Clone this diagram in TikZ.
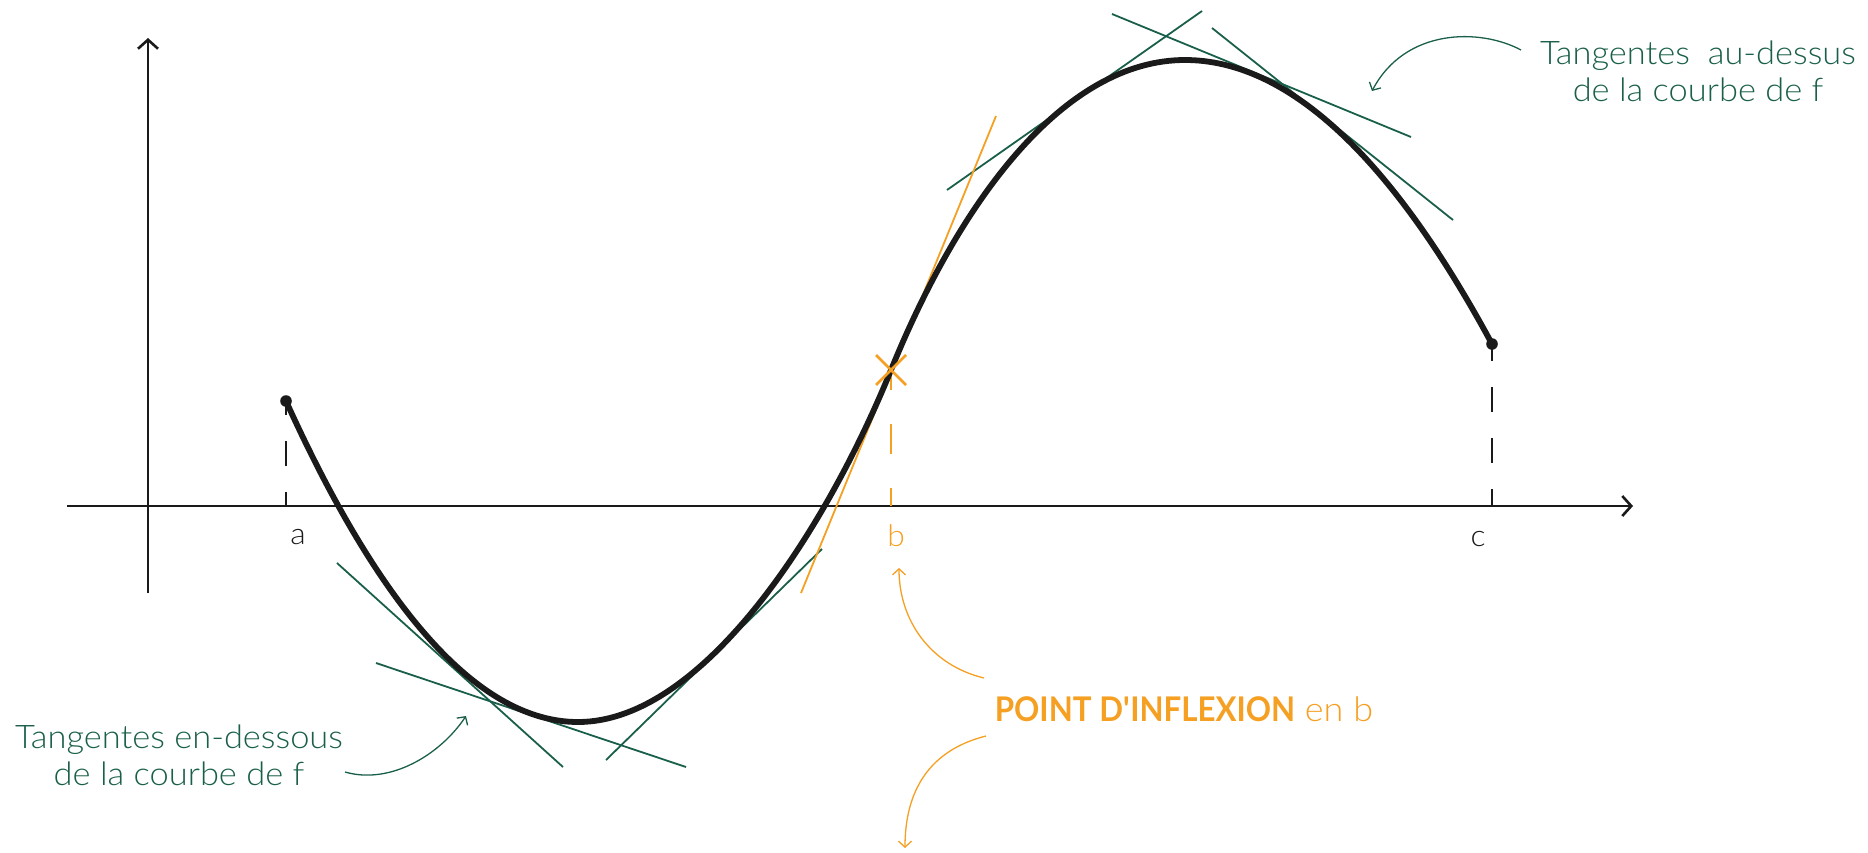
\documentclass[tikz,border=0pt]{standalone}
\usepackage{fontspec}
\setmainfont{Lato Light}[FakeStretch=1.06]
\newfontfamily\pibold{Lato Bold}[FakeStretch=0.92]
\usetikzlibrary{arrows.meta}
\definecolor{vert}{HTML}{1A5F4B}
\definecolor{orng}{HTML}{F5A023}
\definecolor{ink}{HTML}{1A1A1A}
\begin{document}
\begin{tikzpicture}[x=1pt,y=-1pt,
  axisline/.style={ink, line width=2.6pt, -{Straight Barb[length=9pt,width=20pt]}},
  curveline/.style={ink, line width=5.8pt, line cap=round},
  dashline/.style={line width=2.6pt, dash pattern=on 25pt off 26pt},
  tanline/.style={vert, line width=1.8pt},
  tanorange/.style={orng, line width=1.8pt},
  thinarrow/.style={line width=1.3pt, -{Straight Barb[length=6pt,width=13pt]}},
  annot/.style={font=\fontsize{32.5}{37}\selectfont, align=center, inner sep=0pt},
  tick/.style={font=\fontsize{30}{36}\selectfont, inner sep=0pt}]
\useasboundingbox (0,0) rectangle (1868,852);
% axes
\coordinate (xs) at (67,506);
\coordinate (xe) at (1633,506);
\coordinate (ys) at (148,593);
\coordinate (ye) at (148,38);
\draw[axisline] (xs) -- (xe);
\draw[axisline] (ys) -- (ye);
% key points
\coordinate (A) at (286,401);
\coordinate (M) at (578,722);
\coordinate (B) at (891,370);
\coordinate (X) at (1185,60);
\coordinate (C) at (1492,344);
\coordinate (Ab) at (286,506);
\coordinate (Bb) at (891,506);
\coordinate (Cb) at (1492,506);
% dashed verticals
\draw[dashline, ink, dash phase=11pt] (A) -- (Ab);
\draw[dashline, ink, dash phase=8pt] (C) -- (Cb);
\draw[orng, line width=2.6pt, dash pattern=on 30pt off 34pt, dash phase=10pt] (B) -- (Bb);
% tangents
\draw[tanline] (947,190) -- (1202,11);
\draw[tanline] (1112,14) -- (1411,137);
\draw[tanline] (1212,28) -- (1453,220);
\draw[tanline] (337,563) -- (563,767);
\draw[tanline] (376,663) -- (686,767);
\draw[tanline] (606,760) -- (822,549);
\draw[tanorange] (801,593) -- (996,116);
% curve
\draw[curveline] (A) .. controls (383,615) and (481,722) .. (M)
  .. controls (703,722) and (826,530) .. (B)
  .. controls (961,198) and (1065,60) .. (X)
  .. controls (1287,60) and (1390,155) .. (C);
\fill[ink] (A) circle[radius=5.8pt];
\fill[ink] (C) circle[radius=5.8pt];
% inflection cross
\draw[orng, line width=2.6pt] ([shift={(-15,-15)}]B) -- ([shift={(15,15)}]B);
\draw[orng, line width=2.6pt] ([shift={(-15,15)}]B) -- ([shift={(15,-15)}]B);
% tick labels
\node[tick, ink] (la) at (298,537) {a};
\node[tick, orng] (lb) at (896,536) {b};
\node[tick, ink] (lc) at (1478,539) {c};
% annotations
\node[annot, vert] (tup) at (1698,71) {Tangentes\hspace{0.55em}au-dessus\\de la courbe de f};
\node[annot, vert] (tdown) at (179,755) {Tangentes en-dessous\\de la courbe de f};
\node[annot, orng, font=\fontsize{34}{37}\selectfont] (infl) at (1184,709) {{\pibold POINT D\textquotesingle INFLEXION} en b};
% annotation arrows
\coordinate (g1s) at (1521,50);
\coordinate (g1e) at (1372,91);
\draw[thinarrow, vert] (g1s) .. controls (1480,28) and (1405,28) .. (g1e);
\coordinate (g2s) at (345,772);
\coordinate (g2e) at (466,716);
\draw[thinarrow, vert] (g2s) .. controls (390,785) and (440,755) .. (g2e);
\coordinate (o1s) at (984,678);
\coordinate (o1e) at (899,568);
\draw[thinarrow, orng] (o1s) .. controls (930,665) and (899,620) .. (o1e);
\coordinate (o2s) at (986,736);
\coordinate (o2e) at (905,848);
\draw[thinarrow, orng] (o2s) .. controls (930,750) and (905,790) .. (o2e);
\end{tikzpicture}
\end{document}
